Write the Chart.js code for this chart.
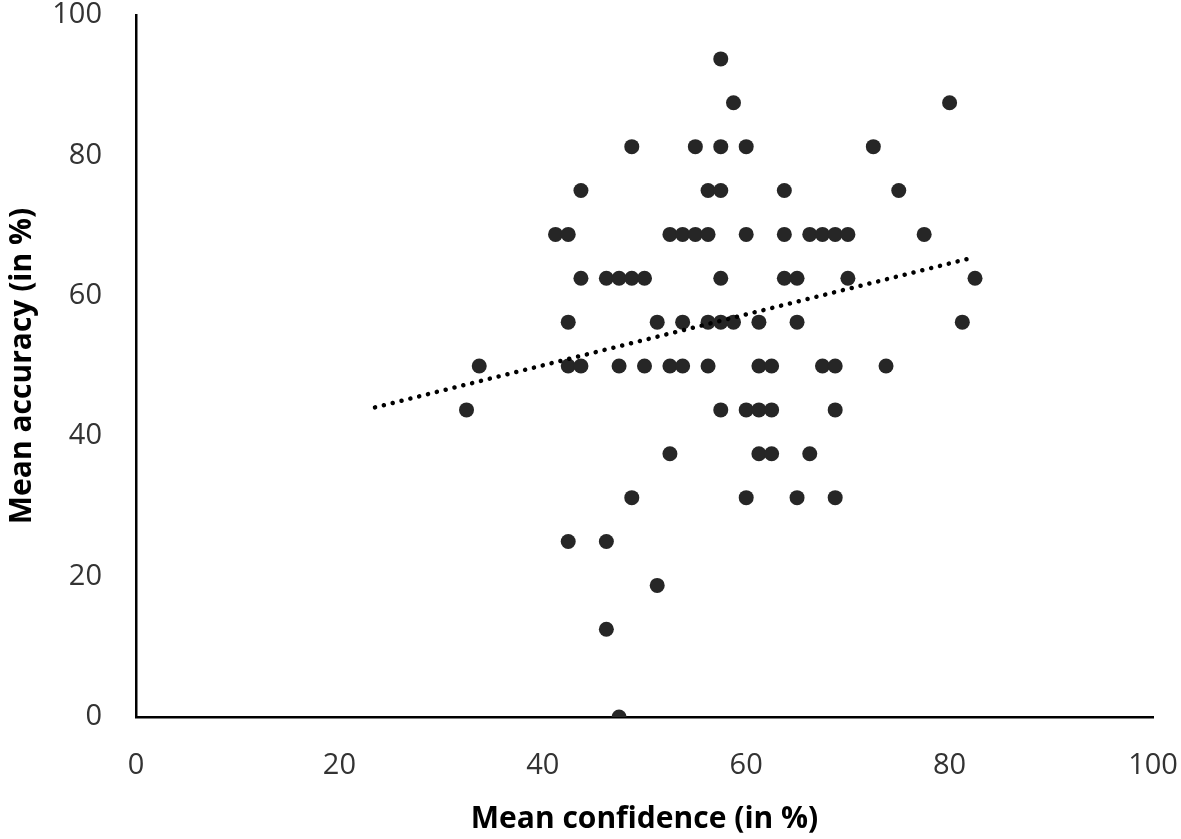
<!DOCTYPE html>
<html>
<head>
<meta charset="utf-8">
<script src="https://cdn.jsdelivr.net/npm/chart.js@4"></script>
<style>
  body { margin: 0; background: #fff; }
  #wrap { width: 1181px; height: 839px; }
</style>
</head>
<body>
<div id="wrap"><canvas id="chart" width="1181" height="839"></canvas></div>
<script>
// Mean confidence (x) and mean accuracy (y) per participant, grouped by accuracy level
const meanConfidence = [
    57.5,
    58.75, 80,
    48.75, 55, 57.5, 60, 72.5,
    43.75, 56.25, 57.5, 63.75, 75,
    41.25, 42.5, 52.5, 53.75, 55, 56.25, 60, 63.75, 66.25, 67.5, 68.75, 70, 77.5,
    43.75, 46.25, 47.5, 48.75, 50, 57.5, 63.75, 65, 70, 82.5,
    42.5, 51.25, 53.75, 56.25, 57.5, 58.75, 61.25, 65, 81.25,
    33.75, 42.5, 43.75, 47.5, 50, 52.5, 53.75, 56.25, 61.25, 62.5, 67.5, 68.75, 73.75,
    32.5, 57.5, 60, 61.25, 62.5, 68.75,
    52.5, 61.25, 62.5, 66.25,
    48.75, 60, 65, 68.75,
    42.5, 46.25,
    51.25,
    46.25,
    47.5
];
const meanAccuracy = [
    93.75,
    87.5, 87.5,
    81.25, 81.25, 81.25, 81.25, 81.25,
    75, 75, 75, 75, 75,
    68.75, 68.75, 68.75, 68.75, 68.75, 68.75, 68.75, 68.75, 68.75, 68.75, 68.75, 68.75, 68.75,
    62.5, 62.5, 62.5, 62.5, 62.5, 62.5, 62.5, 62.5, 62.5, 62.5,
    56.25, 56.25, 56.25, 56.25, 56.25, 56.25, 56.25, 56.25, 56.25,
    50, 50, 50, 50, 50, 50, 50, 50, 50, 50, 50, 50, 50,
    43.75, 43.75, 43.75, 43.75, 43.75, 43.75,
    37.5, 37.5, 37.5, 37.5,
    31.25, 31.25, 31.25, 31.25,
    25, 25,
    18.75,
    12.5,
    0
];

// linear trendline end points
const trendX = [23.5, 81.9];
const trendY = [44.1, 65.3];

const xTickValues = [0, 20, 40, 60, 80, 100];
const yTickValues = [0, 20, 40, 60, 80, 100];

const points = meanConfidence.map((c, i) => ({ x: c, y: meanAccuracy[i] }));
const trend = trendX.map((x, i) => ({ x: x, y: trendY[i] }));

const tickFont = { family: 'Open Sans', size: 29 };
const titleFont = { family: 'Open Sans', size: 30, weight: 'bold' };

new Chart(document.getElementById('chart'), {
    type: 'scatter',
    data: {
        datasets: [{
            type: 'line',
            data: trend,
            borderColor: '#000',
            borderWidth: 4.5,
            borderDash: [0.1, 9],
            borderCapStyle: 'round',
            pointRadius: 0,
            fill: false,
            order: 0
        }, {
            data: points,
            backgroundColor: '#262626',
            borderColor: '#262626',
            pointRadius: 7.5,
            pointBorderWidth: 0,
            order: 1
        }]
    },
    options: {
        responsive: false,
        animation: false,
        events: [],
        layout: { padding: { top: 15, right: 28, left: 0, bottom: 0 } },
        plugins: {
            legend: { display: false },
            tooltip: { enabled: false }
        },
        scales: {
            x: {
                type: 'linear',
                min: 0,
                max: 100,
                afterBuildTicks: (scale) => { scale.ticks = xTickValues.map(v => ({ value: v })); },
                afterFit: (scale) => {
                    scale.height = 122;
                    scale.paddingLeft = 0;
                    scale.paddingRight = 0;
                },
                grid: { display: false, drawTicks: false },
                border: { display: true, color: '#000', width: 2.5 },
                ticks: { font: tickFont, color: '#333', padding: 31 },
                title: { display: true, text: 'Mean confidence (in %)', font: titleFont, color: '#000', padding: { top: 0, bottom: 2 } }
            },
            y: {
                type: 'linear',
                min: 0,
                max: 100,
                afterBuildTicks: (scale) => { scale.ticks = yTickValues.map(v => ({ value: v })); },
                afterFit: (scale) => {
                    scale.width = 136;
                    scale.paddingTop = 0;
                    scale.paddingBottom = 0;
                },
                grid: { display: false, drawTicks: false },
                border: { display: true, color: '#000', width: 2.5 },
                ticks: { font: tickFont, color: '#333', padding: 34 },
                title: { display: true, text: 'Mean accuracy (in %)', font: titleFont, color: '#000', padding: { top: 4, bottom: 0 } }
            }
        }
    }
});
</script>
</body>
</html>
